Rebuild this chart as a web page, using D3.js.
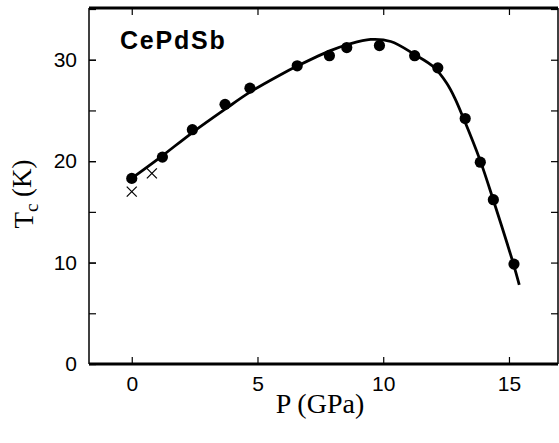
<!DOCTYPE html>
<html>
<head>
<meta charset="utf-8">
<script src="https://cdn.jsdelivr.net/npm/d3@7"></script>
<style>
  body { margin: 0; background: #fff; }
  svg { display: block; }
</style>
</head>
<body>
<div id="chart"></div>
<script>
// measured Tc points (filled circles)
const pressure = [0, 1.22, 2.41, 3.71, 4.7, 6.58, 7.86, 8.55, 9.85, 11.25, 12.17, 13.26, 13.86, 14.38, 15.2];
const tc = [18.3, 20.4, 23.1, 25.6, 27.2, 29.4, 30.4, 31.2, 31.4, 30.4, 29.2, 24.2, 19.9, 16.2, 9.85];

// crosses
const crossP = [0, 0.8];
const crossT = [17.0, 18.8];

// guide-to-the-eye curve
const curveP = [0.05, 1.2, 2.4, 3.7, 4.7, 5.9, 6.6, 7.9, 8.6, 9.5, 10.3, 11.26, 12.0, 12.52, 12.85, 13.18, 13.85, 14.38, 15.17, 15.41];
const curveT = [18.4, 20.5, 22.8, 25.1, 26.8, 28.5, 29.4, 30.9, 31.5, 32.0, 31.8, 30.5, 29.3, 27.7, 26.2, 24.3, 20.1, 16.15, 9.93, 7.8];

const xTicks = [0, 5, 10, 15];
const yTicks = [0, 10, 20, 30];
const yMinor = [0, 5, 10, 15, 20, 25, 30, 35];

const W = 559, H = 443;
const margin = { top: 8, right: 1, bottom: 79, left: 89 };
const width = W - margin.left - margin.right;
const height = H - margin.top - margin.bottom;

const svg = d3.select("#chart").append("svg")
  .attr("width", W)
  .attr("height", H)
  .append("g")
  .attr("transform", `translate(${margin.left},${margin.top})`);

const x = d3.scaleLinear().domain([-1.7, 16.95]).range([0, width]);
const y = d3.scaleLinear().domain([0, 35.1]).range([height, 0]);

const tickFont = "'Liberation Sans', Arial, Helvetica, sans-serif";
const serif = "'Liberation Serif', 'Times New Roman', serif";

// bottom axis
svg.append("g")
  .attr("transform", `translate(0,${height})`)
  .call(d3.axisBottom(x).tickValues(xTicks).tickFormat(d3.format("d")).tickSizeInner(-7).tickSizeOuter(0).tickPadding(12));
// top axis (ticks only)
svg.append("g")
  .call(d3.axisTop(x).tickValues(xTicks).tickFormat("").tickSizeInner(-7).tickSizeOuter(0));
// left axis
svg.append("g")
  .call(d3.axisLeft(y).tickValues(yTicks).tickFormat(d3.format("d")).tickSizeInner(-7).tickSizeOuter(0).tickPadding(12));
// left minor ticks
svg.append("g")
  .call(d3.axisLeft(y).tickValues(yMinor).tickFormat("").tickSizeInner(-7).tickSizeOuter(0));
// right axis ticks
svg.append("g")
  .attr("transform", `translate(${width},0)`)
  .call(d3.axisRight(y).tickValues(yMinor).tickFormat("").tickSizeInner(-7).tickSizeOuter(0));

svg.selectAll(".domain").remove();
svg.selectAll(".tick line").attr("stroke", "#000").attr("stroke-width", 1.2);
svg.selectAll(".tick text")
  .style("font-family", tickFont)
  .style("font-size", "21px")
  .attr("fill", "#000");

// frame
svg.append("line").attr("x1", 0).attr("x2", width).attr("y1", 0).attr("y2", 0)
  .attr("stroke", "#000").attr("stroke-width", 3);
svg.append("line").attr("x1", 0).attr("x2", width).attr("y1", height).attr("y2", height)
  .attr("stroke", "#000").attr("stroke-width", 3);
svg.append("line").attr("x1", 0).attr("x2", 0).attr("y1", 0).attr("y2", height)
  .attr("stroke", "#000").attr("stroke-width", 1.5);
svg.append("line").attr("x1", width).attr("x2", width).attr("y1", 0).attr("y2", height)
  .attr("stroke", "#000").attr("stroke-width", 1.5);

// curve
const line = d3.line()
  .x(i => x(curveP[i]))
  .y(i => y(curveT[i]))
  .curve(d3.curveCatmullRom.alpha(0.5));
svg.append("path")
  .attr("d", line(d3.range(curveP.length)))
  .attr("fill", "none")
  .attr("stroke", "#000")
  .attr("stroke-width", 2.8);

// filled circles
svg.selectAll(".dot")
  .data(d3.range(pressure.length))
  .enter().append("circle")
  .attr("class", "dot")
  .attr("cx", i => x(pressure[i]))
  .attr("cy", i => y(tc[i]))
  .attr("r", 5.6)
  .attr("fill", "#000");

// crosses
const cs = 5;
const crosses = svg.selectAll(".cross")
  .data(d3.range(crossP.length))
  .enter().append("g")
  .attr("class", "cross")
  .attr("transform", i => `translate(${x(crossP[i])},${y(crossT[i])})`);
crosses.append("line").attr("x1", -cs).attr("y1", -cs).attr("x2", cs).attr("y2", cs)
  .attr("stroke", "#000").attr("stroke-width", 1.2);
crosses.append("line").attr("x1", -cs).attr("y1", cs).attr("x2", cs).attr("y2", -cs)
  .attr("stroke", "#000").attr("stroke-width", 1.2);

// sample label
svg.append("text")
  .attr("x", 120 - margin.left)
  .attr("y", 49 - margin.top)
  .style("font-family", tickFont)
  .style("font-weight", "bold")
  .style("font-size", "25px")
  .style("letter-spacing", "1.8px")
  .text("CePdSb");

// x label
svg.append("text")
  .attr("x", 320 - margin.left)
  .attr("y", 413 - margin.top)
  .style("text-anchor", "middle")
  .style("font-family", serif)
  .style("font-size", "28px")
  .text("P (GPa)");

// y label
const yl = svg.append("text")
  .attr("transform", `translate(${33 - margin.left},${194 - margin.top}) rotate(-90)`)
  .style("text-anchor", "middle")
  .style("font-family", serif)
  .style("font-size", "27px");
yl.append("tspan").text("T");
yl.append("tspan").attr("dy", "0.25em").style("font-size", "19px").text("c");
yl.append("tspan").attr("dy", "-0.25em").text(" (K)");
</script>
</body>
</html>
